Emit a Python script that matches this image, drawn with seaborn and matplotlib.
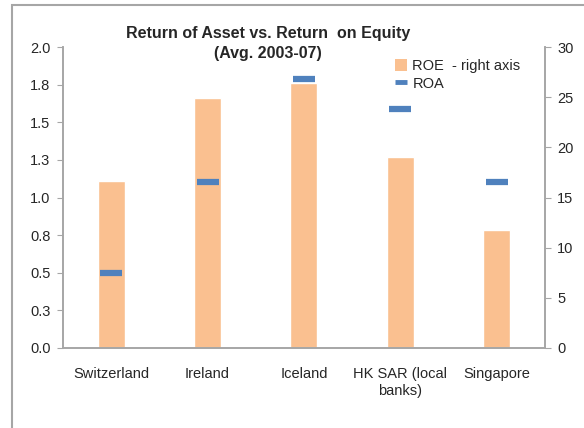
import matplotlib
matplotlib.use("Agg")
import matplotlib.pyplot as plt
import seaborn as sns
import pandas as pd
from matplotlib.patches import Patch, Rectangle
from matplotlib.lines import Line2D

# data
countries = ["Switzerland", "Ireland", "Iceland", "HK SAR (local\nbanks)", "Singapore"]
roe = [16.6, 24.9, 26.4, 19.0, 11.8]      # right axis, bars
roa = [0.50, 1.10, 1.79, 1.59, 1.10]      # left axis, dashes
roa_ticks = [0, 0.25, 0.5, 0.75, 1.0, 1.25, 1.5, 1.75, 2.0]
roa_tick_labels = ["0.0", "0.3", "0.5", "0.8", "1.0", "1.3", "1.5", "1.8", "2.0"]
roe_ticks = [0, 5, 10, 15, 20, 25, 30]

BAR = "#FAC090"
DASH = "#4F81BD"
GREY = "#A6A6A6"

sns.set_style("white")
plt.rcParams["font.family"] = ["Liberation Sans", "DejaVu Sans"]

df = pd.DataFrame({"Country": countries, "ROE": roe, "ROA": roa})

fig = plt.figure(figsize=(5.84, 4.28), dpi=100)
ax = fig.add_axes([0.108, 0.187, 0.825, 0.703])
ax2 = ax.twinx()

# bars go on the base axes (ticks moved right) so the ROA dashes sit on top
sns.barplot(data=df, x="Country", y="ROE", ax=ax, color=BAR, width=0.28, saturation=1)
sns.scatterplot(data=df, x="Country", y="ROA", ax=ax2, marker="_", s=260,
                linewidth=4.5, color=DASH, legend=False, zorder=5)

ax.yaxis.tick_right()
ax2.yaxis.tick_left()

ax.set_xlim(-0.5, len(countries) - 0.5)
ax.set_ylim(0, 30)
ax.set_yticks(roe_ticks)
ax2.set_ylim(0, 2)
ax2.set_yticks(roa_ticks)
ax2.set_yticklabels(roa_tick_labels)
for a in (ax, ax2):
    a.set_xlabel("")
    a.set_ylabel("")
    for s in a.spines.values():
        s.set_color(GREY)
        s.set_linewidth(1.2)
    a.spines["top"].set_visible(False)

ax.tick_params(axis="y", right=True, left=False, length=4, color=GREY, labelsize=10.5, pad=5)
ax2.tick_params(axis="y", left=True, right=False, length=4, color=GREY, labelsize=10.5, pad=5)
ax.set_xticks([i - 0.5 for i in range(len(countries) + 1)], minor=True)
ax.tick_params(axis="x", which="major", length=0, labelsize=10.5, pad=14)
ax.tick_params(axis="x", which="minor", length=4, color=GREY, direction="out")

fig.text(268 / 584, 1 - 38 / 428, "Return of Asset vs. Return  on Equity",
         ha="center", va="baseline", fontsize=11.5, fontweight="bold")
fig.text(268 / 584, 1 - 58 / 428, "(Avg. 2003-07)",
         ha="center", va="baseline", fontsize=11.5, fontweight="bold")

handles = [Patch(facecolor=BAR, edgecolor="none"),
           Line2D([], [], color=DASH, marker="_", linestyle="none",
                  markersize=9, markeredgewidth=3.5)]
fig.legend(handles, ["ROE  - right axis", "ROA"], loc="upper left",
           bbox_to_anchor=(395 / 584, 1 - 59 / 428), frameon=False,
           fontsize=10.5, handlelength=0.8, handleheight=0.8,
           handletextpad=0.4, labelspacing=0.25, borderpad=0, borderaxespad=0)

fig.patches.append(Rectangle((12 / 584, -0.1), 1.2, 1.1 - 5 / 428,
                             transform=fig.transFigure, fill=False,
                             edgecolor=GREY, linewidth=1.5))

fig.savefig("out.png", dpi=100)
